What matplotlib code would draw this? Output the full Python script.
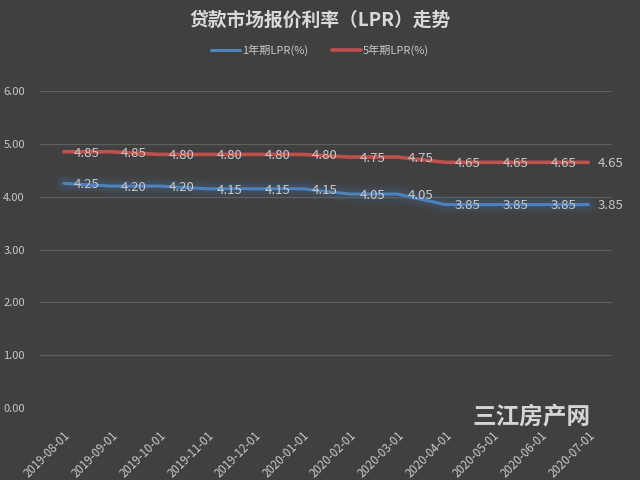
import numpy as np
import matplotlib.pyplot as plt

plt.rcParams['font.family'] = ['Noto Sans CJK SC', 'DejaVu Sans']

dates = ['2019-08-01', '2019-09-01', '2019-10-01', '2019-11-01', '2019-12-01',
         '2020-01-01', '2020-02-01', '2020-03-01', '2020-04-01', '2020-05-01',
         '2020-06-01', '2020-07-01']
lpr_1y = [4.25, 4.20, 4.20, 4.15, 4.15, 4.15, 4.05, 4.05, 3.85, 3.85, 3.85, 3.85]
lpr_5y = [4.85, 4.85, 4.80, 4.80, 4.80, 4.80, 4.75, 4.75, 4.65, 4.65, 4.65, 4.65]
yticks = [0, 1, 2, 3, 4, 5, 6]

bg = '#404040'
c1 = '#4f81bd'
c5 = '#c0504d'
txt = '#c8c8c8'

fig = plt.figure(figsize=(6.4, 4.8), dpi=100, facecolor=bg)
ax = fig.add_axes([0.0625, 0.15, 0.894, 0.6604], facecolor=bg)

x = np.arange(len(dates))

# soft glow under the 1-year line
for lw, a in [(14, 0.05), (10, 0.07), (7, 0.09)]:
    ax.plot(x, lpr_1y, color=c1, lw=lw, alpha=a, solid_capstyle='round',
            solid_joinstyle='round')
ax.plot(x, lpr_1y, color=c1, lw=2.2, label='1年期LPR(%)', solid_capstyle='round',
        solid_joinstyle='round')
ax.plot(x, lpr_5y, color=c5, lw=2.6, label='5年期LPR(%)', solid_capstyle='round',
        solid_joinstyle='round')

for series in (lpr_1y, lpr_5y):
    for xi, v in zip(x, series):
        ax.annotate(f'{v:.2f}', (xi, v), xytext=(7, -1), textcoords='offset points',
                    ha='left', va='center', color=txt, fontsize=9.5)

ax.set_xlim(-0.5, len(dates) - 0.5)
ax.set_ylim(0, 6)
ax.set_yticks(yticks)
ax.set_yticklabels([f'{t:.2f}' for t in yticks])
ax.set_xticks(x)
ax.set_xticklabels(dates, rotation=45, ha='right', va='top', rotation_mode='anchor')
ax.tick_params(axis='x', length=0, pad=15, labelsize=8.3, labelcolor=txt)
ax.tick_params(axis='y', length=0, pad=11, labelsize=8, labelcolor=txt)

ax.grid(axis='y', color='#5e5e5e', lw=0.9)
ax.set_axisbelow(True)
for s in ax.spines.values():
    s.set_visible(False)

fig.text(0.5, 0.957, '贷款市场报价利率（LPR）走势', ha='center', va='center',
         color='#d9d9d9', fontsize=13.5, fontweight='bold')
fig.legend(loc='center', bbox_to_anchor=(0.5, 0.895), ncol=2, frameon=False,
           fontsize=8, labelcolor=txt, handlelength=2.6, columnspacing=2.2,
           handletextpad=0.15)

fig.text(0.83, 0.131, '三江房产网', ha='center', va='center', color='#e6e6e6',
         fontsize=17, fontweight='bold', alpha=0.9)

fig.savefig('out.png', dpi=100, facecolor=bg)
